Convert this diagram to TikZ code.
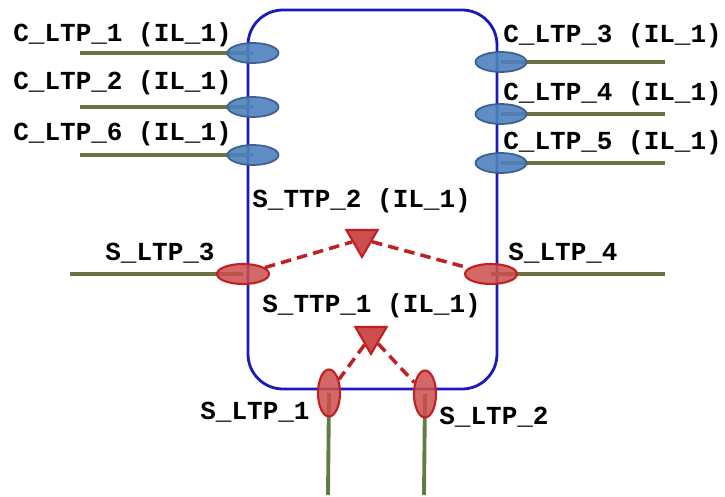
\documentclass[tikz,border=0pt]{standalone}
\usepackage{fontspec}
\setmainfont{Liberation Mono}
\usetikzlibrary{shapes.geometric, positioning, backgrounds}

\definecolor{boxblue}{RGB}{25,25,190}
\definecolor{ctpfill}{RGB}{79,129,189}
\definecolor{ctpline}{RGB}{60,96,145}
\definecolor{stpfill}{RGB}{205,78,76}
\definecolor{stpline}{RGB}{192,32,36}
\definecolor{linkolive}{RGB}{108,112,66}
\definecolor{linkgreen}{RGB}{96,124,66}

\begin{document}
\begin{tikzpicture}[x=0.02cm, y=-0.02cm,
    ctp/.style={ellipse, draw=ctpline, fill=ctpfill, fill opacity=0.9, line width=1pt,
        minimum width=1.02cm, minimum height=0.4cm, inner sep=0pt},
    stp/.style={ellipse, draw=stpline, fill=stpfill, fill opacity=0.85, line width=1.2pt,
        minimum width=1.04cm, minimum height=0.4cm, inner sep=0pt},
    stpv/.style={stp, minimum width=0.44cm, minimum height=0.94cm},
    ttp/.style={regular polygon, regular polygon sides=3, shape border rotate=180,
        draw=stpline, fill=stpfill, line width=1.2pt, minimum size=0.72cm, inner sep=0pt},
    link/.style={draw=linkolive, line width=2.2pt},
    assoc/.style={draw=stpline, line width=2pt, dash pattern=on 6pt off 3.5pt},
    lbl/.style={font=\fontsize{14.8}{17}\selectfont\bfseries, inner sep=0pt, anchor=base west}
]

        \useasboundingbox (0,0) rectangle (725,497);

        % Client ports, left side
        \foreach \n/\y/\ly in {1/53/42, 2/107/90, 6/155/140} {
            \node[ctp] (cl\n) at (253,\y) {};
            \coordinate (cl\n end) at (80,\y);
            \node[lbl] (cl\n txt) at (13,\ly) {C\_LTP\_\n{} (IL\_1)};
        }
        % Client ports, right side
        \foreach \n/\y/\ly in {3/62/43, 4/114/100, 5/163/150} {
            \node[ctp] (cr\n) at (501,\y) {};
            \coordinate (cr\n end) at (665,\y);
            \node[lbl] (cr\n txt) at (503,\ly) {C\_LTP\_\n{} (IL\_1)};
        }

        % Server ports
        \node[stp] (s3) at (243,274) {};
        \node[stp] (s4) at (491,274) {};
        \node[stpv] (s1) at (329,393) {};
        \node[stpv] (s2) at (425,394) {};
        \coordinate (s3end) at (70,274);
        \coordinate (s4end) at (665,274);
        \coordinate (s1end) at (328,495);
        \coordinate (s2end) at (424,495);

        \node[lbl] (s3txt) at (105,260) {S\_LTP\_3};
        \node[lbl] (s4txt) at (508,260) {S\_LTP\_4};
        \node[lbl] (s1txt) at (200,419) {S\_LTP\_1};
        \node[lbl] (s2txt) at (439,424) {S\_LTP\_2};

        % Trail termination points
        \node[ttp] (t2) at (362,239) {};
        \node[ttp] (t1) at (371,336) {};
        \node[lbl] (t2txt) at (252,208) {S\_TTP\_2 (IL\_1)};
        \node[lbl] (t1txt) at (262,313) {S\_TTP\_1 (IL\_1)};

        \begin{scope}[on background layer]
            \draw[boxblue, line width=1.6pt, rounded corners=0.7cm] (248,10) rectangle (497,389);
            \foreach \n in {1,2,6}
                \draw[link] (cl\n end) -- (cl\n.center);
            \foreach \n in {3,4,5}
                \draw[link] (cr\n.center) -- (cr\n end);
            \draw[link] (s3end) -- (s3.center);
            \draw[link] (s4.center) -- (s4end);
            \draw[link, draw=linkgreen] (s1.center) -- (s1end);
            \draw[link, draw=linkgreen] (s2.center) -- (s2end);
        \end{scope}

        % Associations
        \draw[assoc] (s3) -- (t2);
        \draw[assoc] (t2) -- (s4);
        \draw[assoc] (t1) -- (s1);
        \draw[assoc] (t1) -- (s2);

\end{tikzpicture}
\end{document}
